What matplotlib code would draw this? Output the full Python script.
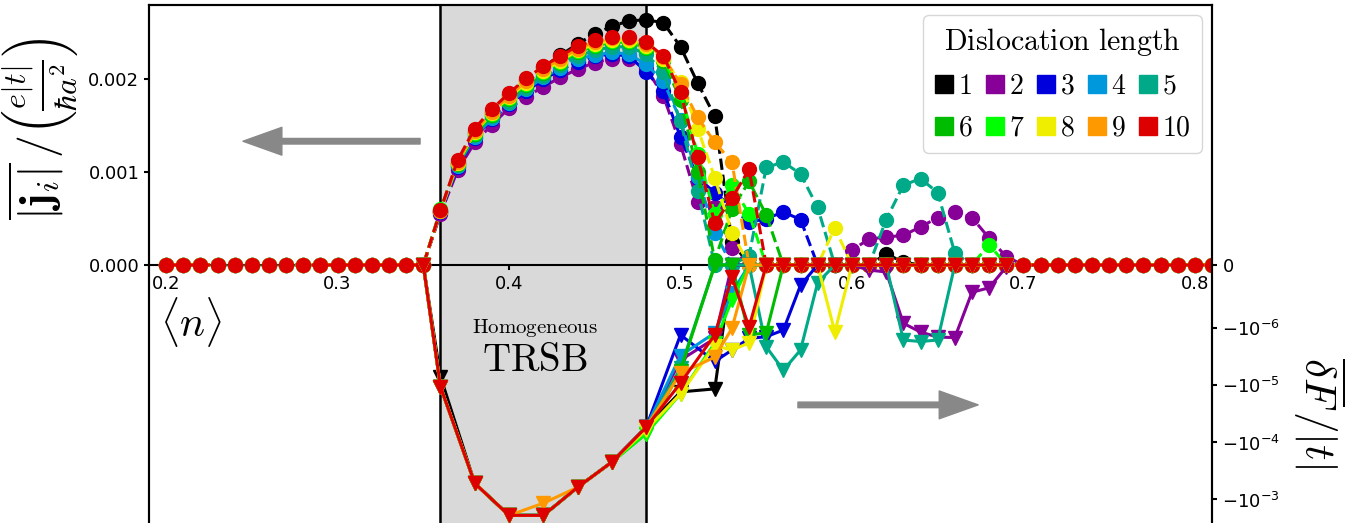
import numpy as np
import matplotlib.pyplot as plt
from matplotlib.lines import Line2D
from matplotlib.ticker import NullLocator, FormatStrFormatter

# filling <n> grid of the current curves
n_cur = np.round(np.arange(0.20, 0.815, 0.01), 2)
# filling grid of the free energy curves
n_fe = [0.35, 0.36, 0.38, 0.40, 0.42, 0.44, 0.46, 0.48, 0.50, 0.52, 0.53, 0.54,
        0.55, 0.56, 0.57, 0.58, 0.59, 0.60, 0.61, 0.62, 0.63, 0.64, 0.65, 0.66,
        0.67, 0.68, 0.69]
lengths = [1, 2, 3, 4, 5, 6, 7, 8, 9, 10]

# mean current in units of 1e-3, for n = 0.36 ... 0.69 (zero outside)
cur_1 = [0.57, 1.10, 1.43, 1.65, 1.83, 1.99, 2.13, 2.26, 2.38, 2.49, 2.57, 2.63, 2.64,
         2.61, 2.35, 1.96, 1.60, 0.25, 0, 0, 0, 0, 0, 0, 0, 0, 0.12, 0.03, 0, 0, 0, 0, 0, 0]
cur_2 = [0.55, 1.02, 1.32, 1.51, 1.69, 1.81, 1.92, 2.02, 2.11, 2.18, 2.22, 2.22, 2.12,
         1.82, 1.30, 0.68, 0.63, 0.18, 0, 0, 0, 0, 0, 0,
         0.16, 0.28, 0.30, 0.32, 0.41, 0.51, 0.57, 0.51, 0.29, 0.09]
cur_3 = [0.57, 1.06, 1.37, 1.57, 1.73, 1.87, 2.00, 2.10, 2.19, 2.25, 2.27, 2.25, 2.08,
         1.87, 1.38, 0.94, 0.78, 0.62, 0.46, 0.50, 0.57, 0.49, 0,
         0, 0, 0, 0, 0, 0, 0, 0, 0, 0, 0]
cur_4 = [0.58, 1.07, 1.38, 1.58, 1.74, 1.89, 2.02, 2.12, 2.22, 2.26, 2.29, 2.27, 2.16,
         1.98, 1.56, 0.95, 0.35, 0,
         0, 0, 0, 0, 0, 0, 0, 0, 0, 0, 0, 0, 0, 0, 0, 0]
cur_5 = [0.58, 1.08, 1.40, 1.60, 1.76, 1.91, 2.04, 2.15, 2.25, 2.31, 2.35, 2.35, 2.27,
         2.08, 1.55, 0.80, 0, 0, 0.10, 1.05, 1.11, 0.98, 0.62, 0, 0, 0,
         0.49, 0.86, 0.93, 0.78, 0.13, 0, 0, 0]
cur_6 = [0.59, 1.09, 1.41, 1.62, 1.79, 1.94, 2.07, 2.18, 2.29, 2.36, 2.40, 2.40, 2.34,
         2.20, 1.78, 1.00, 0.05, 0.60, 0.90, 0.54, 0,
         0, 0, 0, 0, 0, 0, 0, 0, 0, 0, 0, 0, 0]
cur_7 = [0.60, 1.10, 1.42, 1.63, 1.80, 1.95, 2.08, 2.19, 2.30, 2.37, 2.41, 2.41, 2.35,
         2.22, 1.85, 1.20, 0.55, 0.86, 0.55, 0,
         0, 0, 0, 0, 0, 0, 0, 0, 0, 0, 0, 0, 0.22, 0]
cur_8 = [0.58, 1.10, 1.43, 1.64, 1.81, 1.96, 2.09, 2.20, 2.31, 2.38, 2.42, 2.42, 2.36,
         2.22, 1.97, 1.47, 0.94, 0.35, 0, 0, 0, 0, 0, 0.40,
         0, 0, 0, 0, 0, 0, 0, 0, 0, 0]
cur_9 = [0.58, 1.11, 1.44, 1.65, 1.82, 1.98, 2.11, 2.22, 2.33, 2.40, 2.44, 2.44, 2.38,
         2.24, 1.95, 1.59, 1.32, 1.11, 0, 0,
         0, 0, 0, 0, 0, 0, 0, 0, 0, 0, 0, 0, 0, 0]
cur_10 = [0.59, 1.13, 1.47, 1.68, 1.85, 2.01, 2.14, 2.25, 2.36, 2.42, 2.46, 2.46, 2.40,
          2.25, 1.86, 1.16, 0.45, 0.72, 1.03, 0,
          0, 0, 0, 0, 0, 0, 0, 0, 0, 0, 0, 0, 0, 0]

# free energy difference in units of 1e-6, on n_fe
fe_1 = [0, -7, -520, -1900, -1900, -610, -220, -54, -13, -11.5,
        0, 0, 0, 0, 0, 0, 0, 0, 0, 0, 0, 0, 0, 0, 0, 0, 0]
fe_2 = [0, -10.5, -520, -1900, -1900, -610, -220, -54, -3.6, -1.5,
        0, 0, 0, 0, 0, 0, 0, 0, -0.08, -0.11, -0.92, -1.16, -1.42, -1.45, -0.43, -0.36, -0.03]
fe_3 = [0, -10.5, -520, -1900, -1900, -610, -220, -54, -1.3, -3.8,
        -2.4, -1.5, -1.4, -1.07, -0.32, 0, 0, 0, 0, 0, 0, 0, 0, 0, 0, 0, 0]
fe_4 = [0, -10.5, -520, -1900, -1900, -610, -220, -54, -3.0, -1.2,
        -0.44, 0, 0, 0, 0, 0, 0, 0, 0, 0, 0, 0, 0, 0, 0, 0, 0]
fe_5 = [0, -10.5, -520, -1900, -1900, -610, -220, -54, -5.0, 0,
        0, 0, -2.1, -5.4, -2.4, -0.28, 0, 0, 0, 0, -1.6, -1.7, -1.6, 0, 0, 0, 0]
fe_6 = [0, -10.5, -520, -1900, -1900, -610, -220, -70, -5.5, 0,
        0, -1.3, -1.2, 0, 0, 0, 0, 0, 0, 0, 0, 0, 0, 0, 0, 0, 0]
fe_7 = [0, -10.5, -520, -1900, -1900, -610, -220, -70, -14, -1.8,
        -0.55, 0, 0, 0, 0, 0, 0, 0, 0, 0, 0, 0, 0, 0, 0, 0, 0]
fe_8 = [0, -10.5, -520, -1900, -1900, -610, -220, -60, -14, -2.0,
        -2.4, -1.8, 0, 0, 0, 0, -1.16, 0, 0, 0, 0, 0, 0, 0, 0, 0, 0]
fe_9 = [0, -10.5, -520, -1900, -1160, -610, -220, -54, -6.1, -3.2,
        -1.0, 0, 0, 0, 0, 0, 0, 0, 0, 0, 0, 0, 0, 0, 0, 0, 0]
fe_10 = [0, -10.5, -520, -1900, -1900, -610, -220, -54, -9.1, -1.3,
         -0.19, -0.98, 0, 0, 0, 0, 0, 0, 0, 0, 0, 0, 0, 0, 0, 0, 0]

currents = [cur_1, cur_2, cur_3, cur_4, cur_5, cur_6, cur_7, cur_8, cur_9, cur_10]
energies = [fe_1, fe_2, fe_3, fe_4, fe_5, fe_6, fe_7, fe_8, fe_9, fe_10]
colors = plt.cm.nipy_spectral(np.arange(10) / 10)

fig = plt.figure(figsize=(13.65, 5.23), dpi=100)
ax = fig.add_axes([149 / 1365, -2 / 523, 1063 / 1365, 520 / 523])
ax2 = ax.twinx()

ax.axvspan(0.36, 0.48, color='#d9d9d9', zorder=0)
ax.axvline(0.36, color='k', lw=1.8, zorder=1)
ax.axvline(0.48, color='k', lw=1.8, zorder=1)

for cur, fe, c in zip(currents, energies, colors):
    j = np.array([0.0] * 16 + cur + [0.0] * 12) * 1e-3
    ax.plot(n_cur, j, 'o--', color=c, ms=10, lw=2.2)
    ax2.plot(n_fe, np.array(fe) * 1e-6, 'v-', color=c, ms=10, lw=2.2)

ax.set_xlim(0.19, 0.81)
ax.set_ylim(-0.0028, 0.0028)
ax.set_xticks([0.2, 0.3, 0.4, 0.5, 0.6, 0.7, 0.8])
ax.set_yticks([0, 0.001, 0.002])
ax.yaxis.set_major_formatter(FormatStrFormatter('%.3f'))
ax.spines['bottom'].set_position(('data', 0))
ax.spines['bottom'].set_zorder(1)
for s in ax.spines.values():
    s.set_linewidth(1.5)
ax.tick_params(labelsize=13, width=1.5)

ax2.set_yscale('symlog', linthresh=1e-6, linscale=1)
ax2.set_ylim(-0.0028, 0.0028)
ax2.set_yticks([-1e-3, -1e-4, -1e-5, -1e-6, 0])
ax2.yaxis.set_minor_locator(NullLocator())
ax2.spines['bottom'].set_visible(False)
for s in ax2.spines.values():
    s.set_linewidth(1.5)
ax2.tick_params(labelsize=13, width=1.5)

ax.text(0.415, -0.00068, r'$\mathrm{Homogeneous}$', fontsize=15, ha='center',
        va='center', math_fontfamily='cm')
ax.text(0.415, -0.00102, r'$\mathrm{TRSB}$', fontsize=28, ha='center',
        va='center', math_fontfamily='cm')
ax.text(0.0395, 0.39, r'$\langle n\rangle$', transform=ax.transAxes, fontsize=30,
        ha='center', va='center', math_fontfamily='cm')

arrow = dict(facecolor='#888888', edgecolor='#888888', width=4, headwidth=20,
             headlength=28, shrink=0)
ax.annotate('', xy=(0.0884, 0.738), xytext=(0.255, 0.738), xycoords='axes fraction',
            textcoords='axes fraction', arrowprops=arrow)
ax.annotate('', xy=(0.780, 0.231), xytext=(0.6105, 0.231), xycoords='axes fraction',
            textcoords='axes fraction', arrowprops=arrow)

fig.text(0.0293, 0.7533, r'$\overline{|\mathbf{j}_i|}\,/\left(\frac{e|t|}{\hbar a^2}\right)$',
         rotation=90, ha='center', va='center', fontsize=33, math_fontfamily='cm')
fig.text(0.9663, 0.2122, r'$\overline{\delta F}\,/|t|$', rotation=270, ha='center',
         va='center', fontsize=31, math_fontfamily='cm')

# legend filled row by row: 1-5 on top, 6-10 below
order = [0, 5, 1, 6, 2, 7, 3, 8, 4, 9]
handles = [Line2D([], [], marker='s', linestyle='none', color=colors[i], markersize=13)
           for i in order]
labels = [r'$%d$' % lengths[i] for i in order]
leg = ax2.legend(handles, labels, ncol=5, loc='upper right',
                 title=r'$\mathrm{Dislocation\ length}$', fontsize=20, title_fontsize=21.5,
                 handlelength=0.7, handletextpad=0.15, columnspacing=0.45,
                 borderaxespad=0.36)
for t in leg.get_texts():
    t.set_math_fontfamily('cm')
leg.get_title().set_math_fontfamily('cm')

fig.savefig('out.png', dpi=100)
